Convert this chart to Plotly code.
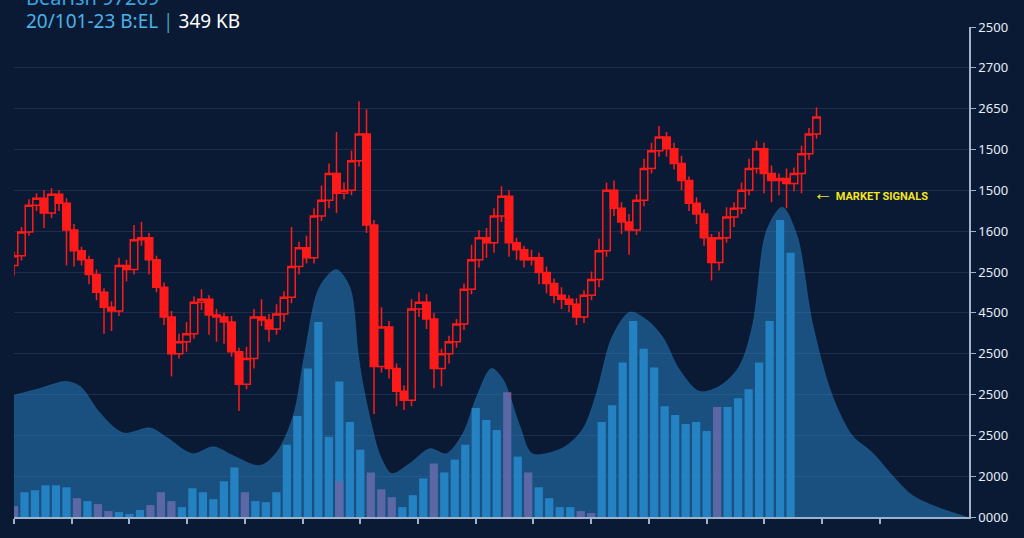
import plotly.graph_objects as go

# ---------------- data ----------------
# right-axis tick labels, bottom -> top (as printed on the chart)
y_tick_labels = ['0000', '2000', '2500', '2500', '2500', '4500', '2500',
                 '1600', '1500', '1500', '2650', '2700', '2500']
y_tick_step = 41.25
x_tick_step = 5.5
x_tick_count = 16

# volume bars (one per session)
buy_volume = [
    None, 25, 27, 32, 32, 30, None, 16, None, None,
    5, 3, 7, None, None, None, 10, 29, 25, 18,
    36, 50, None, 16, 15, 25, 73, 102, 150, 197,
    81, 137, 96, 68, None, None, None, 10, 22, 39,
    None, 45, 58, 73, 110, 98, 88, None, 61, None,
    30, 19, 10, 10, None, None, 96, 113, 156, 198,
    170, 151, 112, 103, 94, 96, 87, None, 111, 120,
    129, 156, 198, 300, 267]
sell_volume = [
    11, None, None, None, None, None, 19, None, 13, 6,
    None, None, None, 12, 25, 16, None, None, None, None,
    None, None, 25, None, None, None, None, None, None, None,
    None, 36, None, None, 45, 28, 20, None, None, None,
    54, None, None, None, None, None, None, 126, None, 45,
    None, None, None, None, 6, 4, None, None, None, None,
    None, None, None, None, None, None, None, 111, None, None,
    None, None, None, None, None]

# smoothed volume-profile area
area_x = [0, 2.5, 5, 6.3, 8.2, 10.4, 13, 14.6, 17, 19, 20.9, 23.4, 25, 26.6,
          27.7, 29.1, 30.7, 32, 32.8, 33.2, 34.1, 34.9, 36, 37.7, 39.6, 41.2,
          42.8, 44.1, 45.5, 46.6, 48.2, 49.4, 52.3, 54.2, 55.5, 57, 58.7, 60.3,
          61.8, 63.4, 65.3, 67.2, 69.1, 70.4, 71.7, 73.2, 74.6, 76.1, 78, 79.9,
          81.8, 83.7, 85.6, 88.2, 90.8]
area_y = [123, 130, 137, 132, 105, 85, 90, 80, 64, 71, 62, 52, 65, 102,
          165, 232, 250, 232, 165, 137, 92, 62, 44, 54, 69, 64,
          85, 122, 150, 139, 92, 64, 70, 89, 125, 182, 207, 199,
          182, 149, 127, 132, 152, 195, 289, 313, 285, 195, 122, 82,
          65, 42, 22, 9, 0]

# candles
candle_open = [
    254, 264, 288, 315, 322, 307, 326, 317, 290, 269,
    260, 245, 227, 212, 208, 254, 250, 280, 282, 260,
    232, 202, 165, 177, 185, 217, 220, 204, 202, 197,
    167, 134, 160, 202, 199, 190, 205, 222, 253, 272,
    262, 304, 320, 347, 327, 330, 360, 387, 295, 152,
    192, 150, 127, 118, 210, 217, 200, 150, 165, 177,
    195, 230, 260, 282, 277, 304, 324, 277, 270, 260,
    262, 247, 236, 224, 220, 215, 202, 224, 240, 269,
    330, 312, 298, 290, 320, 352, 370, 384, 372, 357,
    340, 317, 306, 282, 257, 282, 303, 312, 330, 352,
    372, 347, 340, 342, 337, 347, 367, 387]
candle_close = [
    264, 288, 315, 322, 307, 326, 317, 290, 269, 260,
    245, 227, 212, 208, 254, 250, 280, 282, 260, 232,
    202, 165, 177, 185, 217, 220, 204, 202, 197, 167,
    134, 160, 202, 199, 190, 205, 222, 253, 272, 262,
    304, 320, 347, 327, 330, 360, 387, 295, 152, 192,
    150, 127, 118, 210, 217, 200, 150, 165, 177, 195,
    230, 260, 282, 277, 304, 324, 277, 270, 260, 262,
    247, 236, 224, 220, 215, 202, 224, 240, 269, 330,
    312, 298, 290, 320, 352, 370, 384, 372, 357, 340,
    317, 306, 282, 257, 282, 303, 312, 330, 352, 372,
    347, 340, 342, 337, 347, 367, 387, 404]
wick_up = [
    4, 5, 6, 5, 8, 6, 4, 5, 6, 4,
    4, 5, 4, 6, 8, 6, 15, 16, 5, 4,
    5, 6, 8, 12, 6, 10, 4, 6, 4, 6,
    4, 12, 8, 18, 6, 10, 6, 40, 6, 12,
    8, 15, 10, 42, 8, 10, 33, 25, 5, 20,
    6, 5, 6, 10, 10, 8, 6, 5, 6, 5,
    6, 15, 8, 10, 8, 10, 6, 5, 4, 8,
    5, 6, 5, 8, 4, 6, 5, 8, 12, 8,
    10, 6, 8, 6, 10, 8, 11, 5, 6, 8,
    4, 6, 5, 4, 6, 10, 6, 8, 10, 8,
    6, 8, 5, 10, 6, 8, 6, 10]
wick_down = [
    10, 5, 4, 6, 15, 5, 8, 36, 16, 6,
    10, 8, 27, 20, 5, 12, 5, 6, 15, 5,
    8, 23, 5, 10, 5, 8, 20, 25, 22, 5,
    27, 5, 10, 6, 13, 6, 8, 6, 8, 6,
    6, 5, 8, 20, 6, 5, 6, 8, 48, 6,
    10, 15, 10, 6, 8, 10, 20, 18, 10, 6,
    6, 5, 8, 15, 10, 6, 14, 10, 8, 6,
    12, 10, 8, 10, 8, 8, 6, 5, 8, 6,
    8, 12, 25, 5, 6, 5, 6, 8, 6, 10,
    8, 10, 8, 18, 8, 5, 10, 6, 5, 5,
    20, 22, 15, 25, 8, 20, 6, 5]

# ---------------- derived tables ----------------
sessions = list(range(len(buy_volume)))
candle_idx = list(range(len(candle_close)))
candle_high = [max(o, c) + w for o, c, w in zip(candle_open, candle_close, wick_up)]
candle_low = [min(o, c) - w for o, c, w in zip(candle_open, candle_close, wick_down)]
y_tick_vals = [i * y_tick_step for i in range(len(y_tick_labels))]
x_tick_vals = [i * x_tick_step for i in range(x_tick_count)]

BG = '#0a1a35'
AXIS = '#9fb3cc'
RED = '#ff1a1a'

fig = go.Figure()

fig.add_trace(go.Scatter(
    x=area_x, y=area_y, mode='lines', fill='tozeroy',
    line=dict(color='rgba(45,135,195,0.25)', width=1, shape='spline', smoothing=0.9),
    fillcolor='rgba(40,130,195,0.52)', hoverinfo='skip'))

fig.add_trace(go.Bar(x=sessions, y=buy_volume, marker=dict(color='#268ccd', line=dict(width=0)),
                     opacity=0.92))
fig.add_trace(go.Bar(x=sessions, y=sell_volume, marker=dict(color='#9c4f8c', line=dict(width=0)),
                     opacity=0.95))

fig.add_trace(go.Candlestick(
    x=candle_idx, open=candle_open, high=candle_high, low=candle_low, close=candle_close,
    xaxis='x2', yaxis='y',
    increasing=dict(line=dict(color=RED, width=1.5), fillcolor='rgba(10,26,53,0.6)'),
    decreasing=dict(line=dict(color=RED, width=1.5), fillcolor=RED),
    whiskerwidth=0))

fig.add_annotation(
    xref='paper', yref='paper', x=0.0105, y=1.028, xanchor='left', yanchor='bottom',
    text='Bearish 97269', showarrow=False,
    font=dict(family='Noto Sans', size=20, color='#3aa6e0'))
fig.add_annotation(
    xref='paper', yref='paper', x=0.0105, y=1.0121, xanchor='left', yanchor='middle',
    text='<span style="color:#4bb2e6">20/101-23 B:EL</span>'
         '<span style="color:#4f93b8"> | </span>'
         '<span style="color:#ffffff">349 KB</span>',
    showarrow=False, font=dict(family='Noto Sans', size=19, color='#4bb2e6'))
fig.add_annotation(
    xref='paper', yref='paper', x=(811 - 14) / 955, y=(522 - 195) / 495,
    xanchor='left', yanchor='middle',
    text='<b><span style="font-size:20px">\u2190</span> MARKET SIGNALS</b>',
    showarrow=False, font=dict(family='Roboto', size=11, color='#f5e61e'))

fig.update_layout(
    width=1024, height=538,
    margin=dict(l=14, r=55, t=27, b=16),
    paper_bgcolor=BG, plot_bgcolor=BG,
    showlegend=False, barmode='overlay', bargap=0.22, boxgap=0.0, boxgroupgap=0.0,
    xaxis=dict(range=[0, 91], showgrid=False, zeroline=False, showline=True,
               linecolor=AXIS, linewidth=1.5, ticks='outside', ticklen=5,
               tickcolor=AXIS, tickwidth=1.5, tickmode='array', tickvals=x_tick_vals,
               showticklabels=False, fixedrange=True),
    xaxis2=dict(range=[0, 127.33], overlaying='x', visible=False,
                rangeslider=dict(visible=False)),
    yaxis=dict(range=[0, 495], side='right', showgrid=True,
               gridcolor='rgba(110,140,180,0.18)', gridwidth=1, zeroline=False,
               showline=True, linecolor=AXIS, linewidth=1.5, ticks='outside',
               ticklen=5, tickcolor=AXIS, tickmode='array', tickvals=y_tick_vals,
               ticktext=y_tick_labels,
               tickfont=dict(family='Noto Sans', size=13, color='#e6edf5')),
)

fig.write_html("out.html", config={'displayModeBar': False},
               post_script="document.body.style.margin='0';document.body.style.overflow='hidden';")
